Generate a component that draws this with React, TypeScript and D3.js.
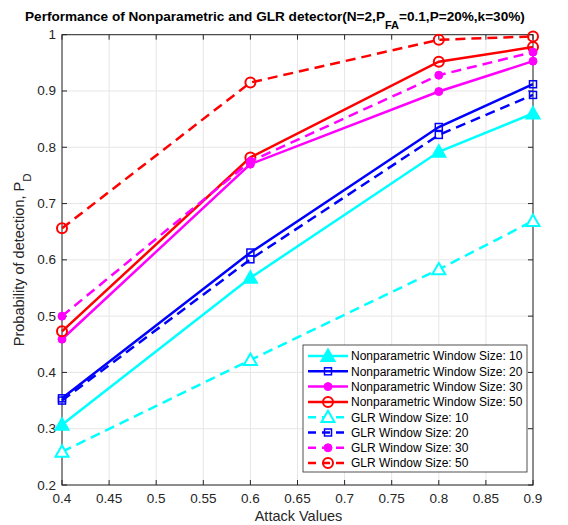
import React from "react";
import * as d3 from "d3";

const attackValues = [0.4, 0.6, 0.8, 0.9];
const np10 = [0.307, 0.568, 0.792, 0.86];
const np20 = [0.354, 0.613, 0.836, 0.912];
const np30 = [0.459, 0.77, 0.899, 0.953];
const np50 = [0.473, 0.782, 0.952, 0.978];
const glr10 = [0.259, 0.422, 0.583, 0.669];
const glr20 = [0.35, 0.601, 0.822, 0.893];
const glr30 = [0.5, 0.775, 0.928, 0.969];
const glr50 = [0.656, 0.915, 0.991, 0.997];
const xTicks = [0.4, 0.45, 0.5, 0.55, 0.6, 0.65, 0.7, 0.75, 0.8, 0.85, 0.9];
const yTicks = [0.2, 0.3, 0.4, 0.5, 0.6, 0.7, 0.8, 0.9, 1];
const seriesNames = [
  "Nonparametric Window Size: 10",
  "Nonparametric Window Size: 20",
  "Nonparametric Window Size: 30",
  "Nonparametric Window Size: 50",
  "GLR Window Size: 10",
  "GLR Window Size: 20",
  "GLR Window Size: 30",
  "GLR Window Size: 50",
];

type Marker = "triFill" | "triOpen" | "square" | "dot" | "circle";
const series: { name: string; values: number[]; color: string; dashed: boolean; marker: Marker }[] = [
  { name: seriesNames[0], values: np10, color: "#00FFFF", dashed: false, marker: "triFill" },
  { name: seriesNames[1], values: np20, color: "#0000FF", dashed: false, marker: "square" },
  { name: seriesNames[2], values: np30, color: "#FF00FF", dashed: false, marker: "dot" },
  { name: seriesNames[3], values: np50, color: "#FF0000", dashed: false, marker: "circle" },
  { name: seriesNames[4], values: glr10, color: "#00FFFF", dashed: true, marker: "triOpen" },
  { name: seriesNames[5], values: glr20, color: "#0000FF", dashed: true, marker: "square" },
  { name: seriesNames[6], values: glr30, color: "#FF00FF", dashed: true, marker: "dot" },
  { name: seriesNames[7], values: glr50, color: "#FF0000", dashed: true, marker: "circle" },
];

const W = 568, H = 525;
const L = 62, R = 533, T = 34.7, B = 485;
const FONT = "'Liberation Sans', Arial, Helvetica, sans-serif";
const AX = "#262626";

function MarkerShape({ m, x, y, color }: { m: Marker; x: number; y: number; color: string }) {
  if (m === "triFill" || m === "triOpen") {
    const s = 6.5;
    const pts = `${x},${y - s} ${x - s},${y + s * 0.75} ${x + s},${y + s * 0.75}`;
    return (
      <polygon points={pts} fill={m === "triFill" ? color : "white"} stroke={color} strokeWidth={2} strokeLinejoin="miter" />
    );
  }
  if (m === "square") {
    return <rect x={x - 3.5} y={y - 3.5} width={7} height={7} fill="none" stroke={color} strokeWidth={1.5} />;
  }
  if (m === "dot") {
    return <circle cx={x} cy={y} r={4} fill={color} stroke={color} strokeWidth={1} />;
  }
  return <circle cx={x} cy={y} r={5} fill="none" stroke={color} strokeWidth={2} />;
}

export default function App() {
  const x = d3.scaleLinear().domain([0.4, 0.9]).range([L, R]);
  const y = d3.scaleLinear().domain([0.2, 1]).range([B, T]);
  const line = d3
    .line<number>()
    .x((_, i) => x(attackValues[i]))
    .y((d) => y(d));

  const legX = 303, legY = 345, legW = 224, legH = 127, rowH = 15.3;

  return (
    <svg width={W} height={H} style={{ position: "absolute", left: 0, top: 0, fontFamily: FONT }}>
      <rect x={0} y={0} width={W} height={H} fill="white" />
      {/* grid */}
      {xTicks.map((t) => (
        <line key={"gx" + t} x1={x(t)} x2={x(t)} y1={T} y2={B} stroke="#e6e6e6" strokeWidth={1} />
      ))}
      {yTicks.map((t) => (
        <line key={"gy" + t} x1={L} x2={R} y1={y(t)} y2={y(t)} stroke="#e6e6e6" strokeWidth={1} />
      ))}
      {/* axes box */}
      <rect x={L} y={T} width={R - L} height={B - T} fill="none" stroke={AX} strokeWidth={1} />
      {xTicks.map((t) => (
        <g key={"tx" + t}>
          <line x1={x(t)} x2={x(t)} y1={B} y2={B - 5} stroke={AX} />
          <line x1={x(t)} x2={x(t)} y1={T} y2={T + 5} stroke={AX} />
          <text x={x(t)} y={B + 18} textAnchor="middle" fontSize={13.5} fill={AX}>
            {d3.format("~g")(t)}
          </text>
        </g>
      ))}
      {yTicks.map((t) => (
        <g key={"ty" + t}>
          <line x1={L} x2={L + 5} y1={y(t)} y2={y(t)} stroke={AX} />
          <line x1={R} x2={R - 5} y1={y(t)} y2={y(t)} stroke={AX} />
          <text x={L - 6} y={y(t) + 4.5} textAnchor="end" fontSize={13.5} fill={AX}>
            {d3.format("~g")(t)}
          </text>
        </g>
      ))}
      {/* series */}
      {series.map((s) => (
        <g key={s.name}>
          <path
            d={line(s.values) || ""}
            fill="none"
            stroke={s.color}
            strokeWidth={2.5}
            strokeDasharray={s.dashed ? "10,6" : undefined}
          />
          {s.values.map((v, i) => (
            <MarkerShape key={i} m={s.marker} x={x(attackValues[i])} y={y(v)} color={s.color} />
          ))}
        </g>
      ))}
      {/* title */}
      <text x={25} y={21} textAnchor="start" fontSize={13.6} fontWeight="bold" fill="black">
        Performance of Nonparametric and GLR detector(N=2,P
        <tspan dy={8} fontSize={11}>FA</tspan>
        <tspan dy={-8}>=0.1,P=20%,k=30%)</tspan>
      </text>
      {/* axis labels */}
      <text x={(L + R) / 2 + 1} y={521} textAnchor="middle" fontSize={14.5} fill={AX}>
        Attack Values
      </text>
      <text transform={`translate(24,${(T + B) / 2}) rotate(-90)`} textAnchor="middle" fontSize={14.5} fill={AX}>
        Probability of detection, P
        <tspan dy={7} fontSize={11.5}>D</tspan>
      </text>
      {/* legend */}
      <rect x={legX} y={legY} width={legW} height={legH} fill="white" stroke={AX} strokeWidth={0.8} />
      {series.map((s, i) => {
        const cy = legY + 11 + i * rowH;
        return (
          <g key={"leg" + s.name}>
            <line
              x1={legX + 5}
              x2={legX + 45}
              y1={cy}
              y2={cy}
              stroke={s.color}
              strokeWidth={2.5}
              strokeDasharray={s.dashed ? "8,6" : undefined}
            />
            <MarkerShape m={s.marker} x={legX + 25} y={cy} color={s.color} />
            <text x={legX + 48} y={cy + 4.3} fontSize={12} fill="black">
              {s.name}
            </text>
          </g>
        );
      })}
    </svg>
  );
}
